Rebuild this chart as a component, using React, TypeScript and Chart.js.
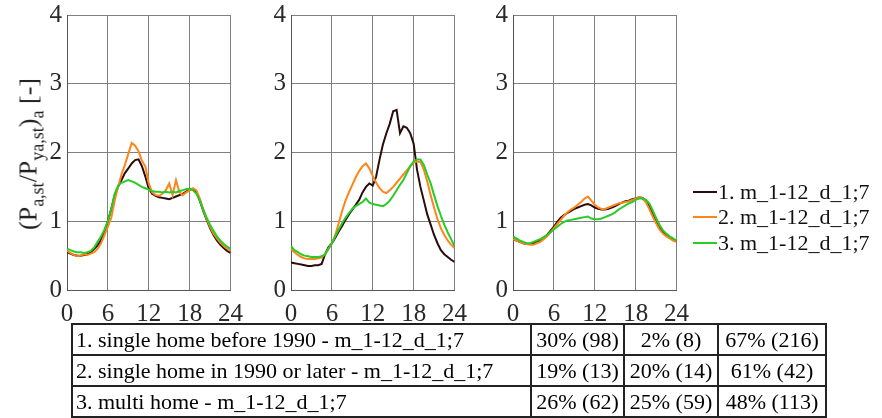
import React, { useEffect, useRef } from "react";
import { Chart, registerables } from "chart.js";

Chart.register(...registerables);

// ---------- data ----------
const hours = [0, 0.5, 1, 1.5, 2, 2.5, 3, 3.5, 4, 4.5, 5, 5.5, 6, 6.5, 7, 7.5, 8, 8.5, 9, 9.5, 10, 10.5, 11, 11.5, 12, 12.5, 13, 13.5, 14, 14.5, 15, 15.5, 16, 16.5, 17, 17.5, 18, 18.5, 19, 19.5, 20, 20.5, 21, 21.5, 22, 22.5, 23, 23.5, 24];

const seriesLabels = ["1. m_1-12_d_1;7", "2. m_1-12_d_1;7", "3. m_1-12_d_1;7"];
const seriesColors = ["#2b0c0c", "#ff8419", "#27cc27"];

// panel 1 (single home before 1990)
const p1Black = [0.55, 0.53, 0.51, 0.5, 0.5, 0.51, 0.52, 0.55, 0.6, 0.65, 0.73, 0.85, 1.0, 1.18, 1.38, 1.5, 1.6, 1.7, 1.77, 1.84, 1.89, 1.9, 1.8, 1.65, 1.48, 1.4, 1.37, 1.35, 1.34, 1.33, 1.32, 1.34, 1.36, 1.38, 1.4, 1.43, 1.47, 1.46, 1.42, 1.3, 1.15, 1.02, 0.9, 0.8, 0.72, 0.66, 0.61, 0.57, 0.54];
const p1Orange = [0.57, 0.54, 0.51, 0.49, 0.5, 0.52, 0.51, 0.53, 0.55, 0.6, 0.68, 0.8, 0.92, 1.05, 1.3, 1.5, 1.68, 1.82, 1.98, 2.14, 2.1, 2.02, 1.88, 1.8, 1.55, 1.42, 1.38, 1.37, 1.4, 1.45, 1.55, 1.38, 1.6, 1.42, 1.38, 1.42, 1.45, 1.48, 1.45, 1.33, 1.17, 1.03, 0.92, 0.82, 0.75, 0.69, 0.64, 0.6, 0.57];
const p1Green = [0.6, 0.58, 0.56, 0.55, 0.55, 0.54, 0.55, 0.57, 0.62, 0.7, 0.78, 0.88, 1.0, 1.18, 1.4, 1.52, 1.56, 1.58, 1.6, 1.58, 1.56, 1.53, 1.5, 1.48, 1.46, 1.44, 1.43, 1.43, 1.42, 1.43, 1.42, 1.43, 1.42, 1.44, 1.45, 1.47, 1.47, 1.45, 1.4, 1.3, 1.17, 1.05, 0.95, 0.86, 0.78, 0.72, 0.67, 0.63, 0.6];

// panel 2 (single home in 1990 or later)
const p2Black = [0.4, 0.39, 0.38, 0.37, 0.36, 0.35, 0.35, 0.36, 0.36, 0.38, 0.52, 0.62, 0.68, 0.76, 0.85, 0.93, 1.02, 1.1, 1.17, 1.24, 1.31, 1.42, 1.5, 1.55, 1.52, 1.65, 1.9, 2.12, 2.28, 2.42, 2.6, 2.62, 2.28, 2.38, 2.36, 2.28, 2.13, 1.75, 1.5, 1.3, 1.1, 0.95, 0.8, 0.68, 0.58, 0.52, 0.48, 0.44, 0.41];
const p2Orange = [0.6, 0.55, 0.51, 0.48, 0.46, 0.45, 0.45, 0.45, 0.46, 0.47, 0.52, 0.6, 0.68, 0.8, 0.97, 1.15, 1.3, 1.42, 1.53, 1.64, 1.73, 1.8, 1.84, 1.77, 1.66, 1.56, 1.48, 1.43, 1.41, 1.45, 1.5, 1.56, 1.62, 1.68, 1.74, 1.8, 1.85, 1.87, 1.86, 1.75, 1.58, 1.38, 1.2, 1.03, 0.9, 0.8, 0.72, 0.66, 0.61];
const p2Green = [0.64, 0.58, 0.55, 0.52, 0.5, 0.49, 0.48, 0.48, 0.48, 0.49, 0.52, 0.6, 0.68, 0.78, 0.88, 0.97, 1.05, 1.12, 1.18, 1.22, 1.25, 1.28, 1.33, 1.27, 1.25, 1.24, 1.23, 1.22, 1.25, 1.3, 1.37, 1.45, 1.53, 1.6, 1.7, 1.8, 1.87, 1.9, 1.9, 1.82, 1.68, 1.55, 1.38, 1.22, 1.08, 0.95, 0.84, 0.74, 0.64];

// panel 3 (multi home)
const p3Black = [0.74, 0.72, 0.7, 0.68, 0.67, 0.67, 0.68, 0.7, 0.72, 0.76, 0.8, 0.86, 0.92, 0.99, 1.05, 1.09, 1.12, 1.15, 1.18, 1.2, 1.22, 1.24, 1.25, 1.23, 1.2, 1.18, 1.17, 1.17, 1.18, 1.2, 1.22, 1.25, 1.27, 1.29, 1.3, 1.32, 1.33, 1.35, 1.34, 1.3, 1.22, 1.1, 0.99, 0.9, 0.84, 0.79, 0.76, 0.73, 0.71];
const p3Orange = [0.74, 0.72, 0.7, 0.68, 0.67, 0.66, 0.66, 0.68, 0.7, 0.74, 0.78, 0.84, 0.9, 0.96, 1.02, 1.08, 1.13, 1.17, 1.2, 1.24, 1.28, 1.33, 1.36, 1.3, 1.24, 1.2, 1.18, 1.18, 1.2, 1.22, 1.24, 1.26, 1.27, 1.28, 1.29, 1.31, 1.33, 1.35, 1.33, 1.28, 1.18, 1.07, 0.97, 0.88, 0.82, 0.78, 0.75, 0.72, 0.7];
const p3Green = [0.78, 0.75, 0.72, 0.7, 0.68, 0.68, 0.7, 0.72, 0.74, 0.77, 0.8, 0.84, 0.88, 0.92, 0.96, 0.99, 1.01, 1.02, 1.03, 1.04, 1.05, 1.06, 1.07, 1.04, 1.03, 1.03, 1.04, 1.06, 1.08, 1.1, 1.13, 1.17, 1.2, 1.23, 1.26, 1.28, 1.31, 1.33, 1.33, 1.31, 1.26, 1.16, 1.05, 0.95, 0.87, 0.82, 0.78, 0.75, 0.72];

const xTicks = [0, 6, 12, 18, 24];
const yTicks = [0, 1, 2, 3, 4];

const tableRows = [
  "1. single home before 1990 - m_1-12_d_1;7",
  "2. single home in 1990 or later - m_1-12_d_1;7",
  "3. multi home - m_1-12_d_1;7",
];
const tableCol1 = ["30% (98)", "19% (13)", "26% (62)"];
const tableCol2 = ["2% (8)", "20% (14)", "25% (59)"];
const tableCol3 = ["67% (216)", "61% (42)", "48% (113)"];

const panels = [
  { left: 67, series: [p1Black, p1Orange, p1Green] },
  { left: 291, series: [p2Black, p2Orange, p2Green] },
  { left: 513, series: [p3Black, p3Orange, p3Green] },
];

const FONT = "'Liberation Serif', 'Times New Roman', serif";
const AXIS_W = 60;
const PLOT_W = 166;
const RIGHT_PAD = 22;
const CANVAS_H = 325;
const PLOT_TOP = 15;
const PLOT_BOTTOM = 290;

function Panel({ left, series }: { left: number; series: number[][] }) {
  const ref = useRef<HTMLCanvasElement | null>(null);
  useEffect(() => {
    if (!ref.current) return;
    const chart = new Chart(ref.current, {
      type: "line",
      data: {
        datasets: series.map((vals, i) => ({
          label: seriesLabels[i],
          data: hours.map((h, j) => ({ x: h, y: vals[j] })),
          borderColor: seriesColors[i],
          backgroundColor: seriesColors[i],
          borderWidth: 2,
          pointRadius: 0,
          tension: 0,
          fill: false,
          order: 2 - i,
        })),
      },
      options: {
        animation: false,
        responsive: false,
        maintainAspectRatio: false,
        layout: { padding: { top: PLOT_TOP, right: RIGHT_PAD, left: 0, bottom: 0 } },
        plugins: { legend: { display: false }, tooltip: { enabled: false } },
        scales: {
          x: {
            type: "linear",
            min: 0,
            max: 24,
            afterFit: (s: any) => { s.height = CANVAS_H - PLOT_BOTTOM; },
            afterBuildTicks: (s: any) => { s.ticks = xTicks.map((v) => ({ value: v })); },
            ticks: {
              stepSize: 6,
              padding: 12,
              maxRotation: 0,
              color: "#2a2a2a",
              font: { family: FONT, size: 25, lineHeight: 1 },
            },
            grid: { color: "#808080", lineWidth: 1, drawTicks: false },
            border: { color: "#555", width: 1 },
          },
          y: {
            min: 0,
            max: 4,
            afterFit: (s: any) => { s.width = AXIS_W; },
            afterBuildTicks: (s: any) => { s.ticks = yTicks.map((v) => ({ value: v })); },
            ticks: {
              stepSize: 1,
              padding: 5,
              color: "#2a2a2a",
              font: { family: FONT, size: 25, lineHeight: 0.4 },
            },
            grid: { color: "#808080", lineWidth: 1, drawTicks: false },
            border: { color: "#555", width: 1 },
          },
        },
      },
    });
    return () => chart.destroy();
  }, []);
  const w = AXIS_W + PLOT_W + RIGHT_PAD;
  return (
    <canvas
      ref={ref}
      width={w}
      height={CANVAS_H}
      style={{ position: "absolute", left: left - AXIS_W, top: 0, width: w, height: CANVAS_H, display: "block" }}
    />
  );
}

export default function App() {
  const cell: React.CSSProperties = {
    border: "2px solid #222",
    padding: "0 3px",
    height: 29,
    lineHeight: "29px",
    whiteSpace: "nowrap",
    overflow: "hidden",
  };
  return (
    <div style={{ position: "absolute", left: 0, top: 0, width: 882, height: 418, overflow: "hidden", background: "#fff", fontFamily: FONT }}>
      {panels.map((p, i) => (
        <Panel key={i} left={p.left} series={p.series} />
      ))}
      <div
        style={{
          position: "absolute",
          left: 33,
          top: 154,
          transform: "translate(-50%, -50%) rotate(-90deg)",
          whiteSpace: "nowrap",
          fontSize: 26,
          lineHeight: "30px",
          color: "#222",
        }}
      >
        (P<sub style={{ fontSize: 18, verticalAlign: -7 }}>a,st</sub>/P
        <sub style={{ fontSize: 18, verticalAlign: -7 }}>ya,st</sub>)
        <sub style={{ fontSize: 18, verticalAlign: -7 }}>a</sub> [-]
      </div>
      <div style={{ position: "absolute", left: 693, top: 179, color: "#111" }}>
        {seriesLabels.map((lab, i) => (
          <div key={i} style={{ display: "flex", alignItems: "center", height: 25.5, fontSize: 22, whiteSpace: "nowrap" }}>
            <span style={{ display: "inline-block", width: 24, height: 2, background: seriesColors[i], marginRight: 1 }} />
            <span>{lab}</span>
          </div>
        ))}
      </div>
      <table
        style={{
          position: "absolute",
          left: 71,
          top: 323,
          borderCollapse: "collapse",
          fontSize: 22,
          color: "#000",
          tableLayout: "fixed",
          width: 755,
        }}
      >
        <colgroup>
          <col style={{ width: 459 }} />
          <col style={{ width: 93 }} />
          <col style={{ width: 94 }} />
          <col style={{ width: 108 }} />
        </colgroup>
        <tbody>
          {tableRows.map((r, i) => (
            <tr key={i}>
              <td style={{ ...cell, textAlign: "left" }}>{r}</td>
              <td style={{ ...cell, textAlign: "center" }}>{tableCol1[i]}</td>
              <td style={{ ...cell, textAlign: "center" }}>{tableCol2[i]}</td>
              <td style={{ ...cell, textAlign: "center" }}>{tableCol3[i]}</td>
            </tr>
          ))}
        </tbody>
      </table>
    </div>
  );
}
